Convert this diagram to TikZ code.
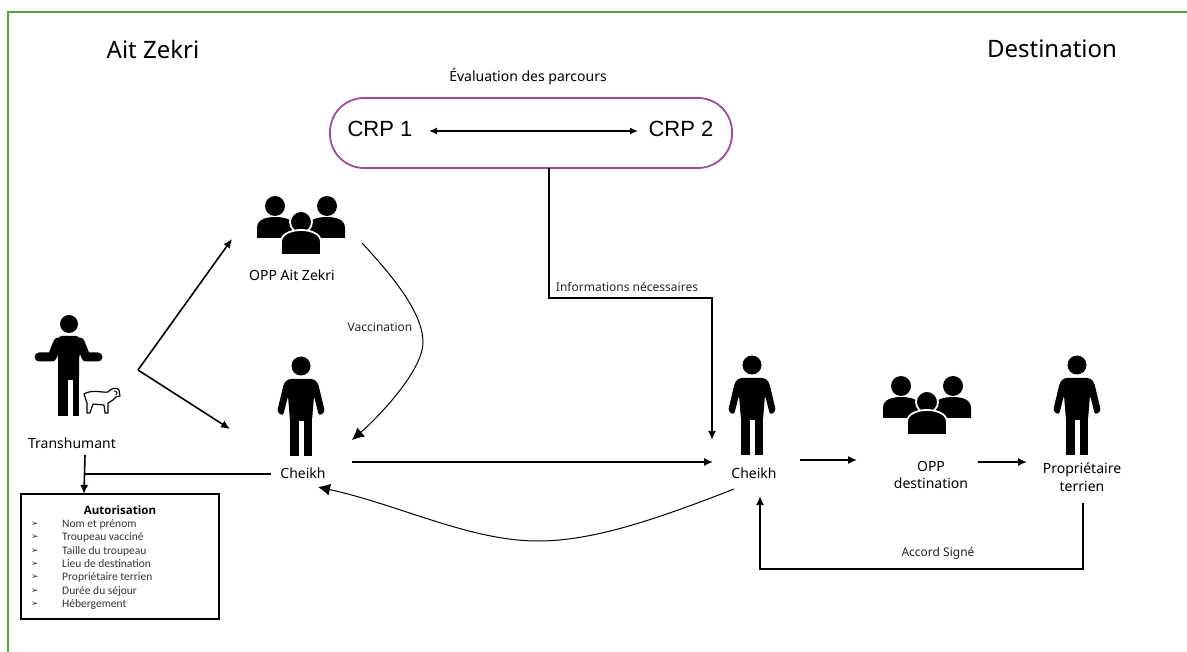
\documentclass[tikz,border=0pt]{standalone}
\usepackage{fontspec}
\setmainfont{Noto Sans}
\newfontfamily\crpfont{Liberation Sans}
\newfontfamily\listfont{Carlito}
\newfontfamily\boxtitlefont{Open Sans}
\newfontfamily\bulletfont{DejaVu Sans}
\definecolor{framegreen}{HTML}{4EA72E}
\definecolor{crppurple}{HTML}{A6479E}
\tikzset{
  lbl/.style={font=\fontsize{14}{17.5}\selectfont, inner sep=0pt, align=center},
  smalllbl/.style={font=\fontsize{12}{14}\selectfont, inner sep=0pt, text=black!85},
  title/.style={font=\fontsize{24}{28}\selectfont, inner sep=0pt},
  crp/.style={font=\crpfont\fontsize{22}{26}\selectfont, inner sep=0pt},
  item/.style={font=\listfont\fontsize{11.5}{13}\selectfont, inner sep=0pt, anchor=west, text=black!80},
  bullet/.style={font=\bulletfont\fontsize{9}{11}\selectfont, inner sep=0pt, text=black!80},
  conn/.style={draw, line width=1.6pt, -{Latex[length=9pt,width=8pt]}},
  thin conn/.style={draw, line width=1pt, -{Latex[length=12pt,width=12pt]}},
  pics/personicon/.style={code={
    \fill (0,0) circle[radius=9.5pt];
    \fill[rounded corners=3pt] (-13,13) -- (13,13) -- (17,17) -- (24,46) -- (18,50) -- (13,30)
      -- (11,55) -- (-11,55) -- (-13,30) -- (-18,50) -- (-24,46) -- (-17,17) -- cycle;
    \fill (-11,50) rectangle (-2.5,90);
    \fill (2.5,50) rectangle (11,90);
  }},
  pics/shrugicon/.style={code={
    \fill (0,0) circle[radius=9pt];
    \fill[rounded corners=3pt] (-10,12) -- (10,12) -- (13,20) -- (10,34) -- (10,56) -- (-11,56) -- (-11,34) -- (-14,20) -- cycle;
    \fill (-11,50) rectangle (-1,92);
    \fill (4,50) rectangle (10,92);
    \draw[line width=9pt, line cap=round, line join=round] (-11,18) -- (-17,33) -- (-30,33);
    \draw[line width=9pt, line cap=round, line join=round] (11,18) -- (17,33) -- (29,33);
  }},
  pics/groupicon/.style={code={
    \fill (-26,-16) circle[radius=10pt];
    \fill (26,-16) circle[radius=10pt];
    \fill (-44,16) -- (-44,6) .. controls (-44,-3) and (-34,-5) .. (-26,-5)
      .. controls (-18,-5) and (-6,-3) .. (-6,6) -- (-6,16) -- cycle;
    \fill (44,16) -- (44,6) .. controls (44,-3) and (34,-5) .. (26,-5)
      .. controls (18,-5) and (6,-3) .. (6,6) -- (6,16) -- cycle;
    \filldraw[draw=white, line width=1.8pt] (0,0) circle[radius=11pt];
    \filldraw[draw=white, line width=1.8pt] (-20,33) -- (-20,20) .. controls (-20,11) and (-8,8) .. (0,8)
      .. controls (8,8) and (20,11) .. (20,20) -- (20,33) -- cycle;
  }},
  pics/sheepicon/.style={code={
    \draw[fill=white, line width=1.2pt, line join=round] (-16,-6) .. controls (-8,-11) and (2,-7) .. (8,-8)
      .. controls (11,-12) and (17,-13) .. (19,-10) -- (20,-4) -- (16,-3) -- (13,0) -- (8,3) -- (8,13)
      -- (5,13) -- (4,5) -- (-7,4) -- (-10,13) -- (-13,13) -- (-13,3) -- cycle;
    \draw[line width=0.9pt] (14,-9) .. controls (17,-9) and (18,-7) .. (16,-5);
  }}
}
\usetikzlibrary{arrows.meta}
\begin{document}
\begin{tikzpicture}[x=1pt,y=-1pt]
\useasboundingbox (0,0) rectangle (1187,652);
\coordinate (frameA) at (8,652);
\coordinate (frameB) at (8,12);
\coordinate (frameC) at (1187,12);
\draw[framegreen, line width=1.6pt] (frameA) -- (frameB) -- (frameC);

\node[title] (ait) at (153,50) {Ait Zekri};
\node[title] (dest) at (1052,49) {Destination};
\node[lbl] (eval) at (528,77) {Évaluation des parcours};

\node[draw=crppurple, line width=1.8pt, rounded corners=34pt, minimum width=402pt, minimum height=70pt] (crpbox) at (531,133) {};
\node[crp] (crp1) at (380,129) {CRP 1};
\node[crp] (crp2) at (681,129) {CRP 2};

\pic at (69,324) {shrugicon};
\pic at (100,400) {sheepicon};
\pic at (301,222) {groupicon};
\pic at (301,366) {personicon};
\pic at (752,365) {personicon};
\pic at (927,402) {groupicon};
\pic at (1077,365) {personicon};

\node[lbl] (trans) at (72,443) {Transhumant};
\node[lbl] (oppait) at (292,275) {OPP Ait Zekri};
\node[lbl] (cheikhA) at (303,473) {Cheikh};
\node[lbl] (cheikhB) at (754,473) {Cheikh};
\node[lbl] (oppdest) at (931,475) {OPP\\destination};
\node[lbl] (proprio) at (1082,477) {Propriétaire\\terrien};
\node[smalllbl] (vacc) at (380,327) {Vaccination};
\node[smalllbl] (info) at (627,287) {Informations nécessaires};
\node[smalllbl] (accord) at (938,553) {Accord Signé};

\node[draw, line width=1.6pt, minimum width=198pt, minimum height=125pt] (autbox) at (120,556.5) {};
\node[font=\boxtitlefont\bfseries\fontsize{11.5}{14}\selectfont, inner sep=0pt] (autor) at (120,510) {Autorisation};
\node[bullet] (b1) at (35,524) {➢};
\node[bullet] (b2) at (35,537.5) {➢};
\node[bullet] (b3) at (35,551) {➢};
\node[bullet] (b4) at (35,564) {➢};
\node[bullet] (b5) at (35,577.5) {➢};
\node[bullet] (b6) at (35,591) {➢};
\node[bullet] (b7) at (35,604) {➢};
\node[item] (i1) at (62,524) {Nom et prénom};
\node[item] (i2) at (62,537.5) {Troupeau vacciné};
\node[item] (i3) at (62,551) {Taille du troupeau};
\node[item] (i4) at (62,564) {Lieu de destination};
\node[item] (i5) at (62,577.5) {Propriétaire terrien};
\node[item] (i6) at (62,591) {Durée du séjour};
\node[item] (i7) at (62,604) {Hébergement};

\coordinate (fork) at (138,370);
\coordinate (toopp) at (232,239);
\coordinate (tocheikh) at (230,429);
\coordinate (oppout) at (362,243);
\coordinate (vaccmid) at (423,342);
\coordinate (vaccin) at (352,440);
\coordinate (cheikhAout) at (352,462);
\coordinate (cheikhBin) at (713,462);
\coordinate (backout) at (734,489);
\coordinate (backin) at (318,487);
\coordinate (crpout) at (549,168);
\coordinate (infoA) at (549,298);
\coordinate (infoB) at (712,298);
\coordinate (infoin) at (712,440);
\coordinate (transout) at (85,455);
\coordinate (autin) at (84,494);
\coordinate (tobox) at (271,474);
\coordinate (joinbox) at (85,474);
\coordinate (cheikhBout) at (800,460);
\coordinate (oppdestin) at (857,460);
\coordinate (oppdestout) at (978,462);
\coordinate (proprioin) at (1027,462);
\coordinate (proprioout) at (1083,503);
\coordinate (accA) at (1083,569);
\coordinate (accB) at (760,569);
\coordinate (accin) at (760,496);
\coordinate (crpleft) at (429,131);
\coordinate (crpright) at (638,131);

\path[conn] (fork) -- (toopp);
\path[conn] (fork) -- (tocheikh);
\path[thin conn] (oppout) .. controls (385,268) and (423,310) .. (vaccmid) .. controls (423,372) and (375,420) .. (vaccin);
\path[conn] (cheikhAout) -- (cheikhBin);
\path[thin conn] (backout) .. controls (650,522) and (590,541) .. (538,541) .. controls (470,541) and (400,505) .. (backin);
\path[conn] (crpout) -- (infoA) -- (infoB) -- (infoin);
\path[conn] (transout) -- (autin);
\draw[line width=1.6pt] (tobox) -- (joinbox);
\path[conn] (cheikhBout) -- (oppdestin);
\path[conn] (oppdestout) -- (proprioin);
\path[conn] (proprioout) -- (accA) -- (accB) -- (accin);
\path[draw, line width=1.3pt, {Latex[length=8pt,width=7pt]}-{Latex[length=8pt,width=7pt]}] (crpleft) -- (crpright);
\end{tikzpicture}
\end{document}
